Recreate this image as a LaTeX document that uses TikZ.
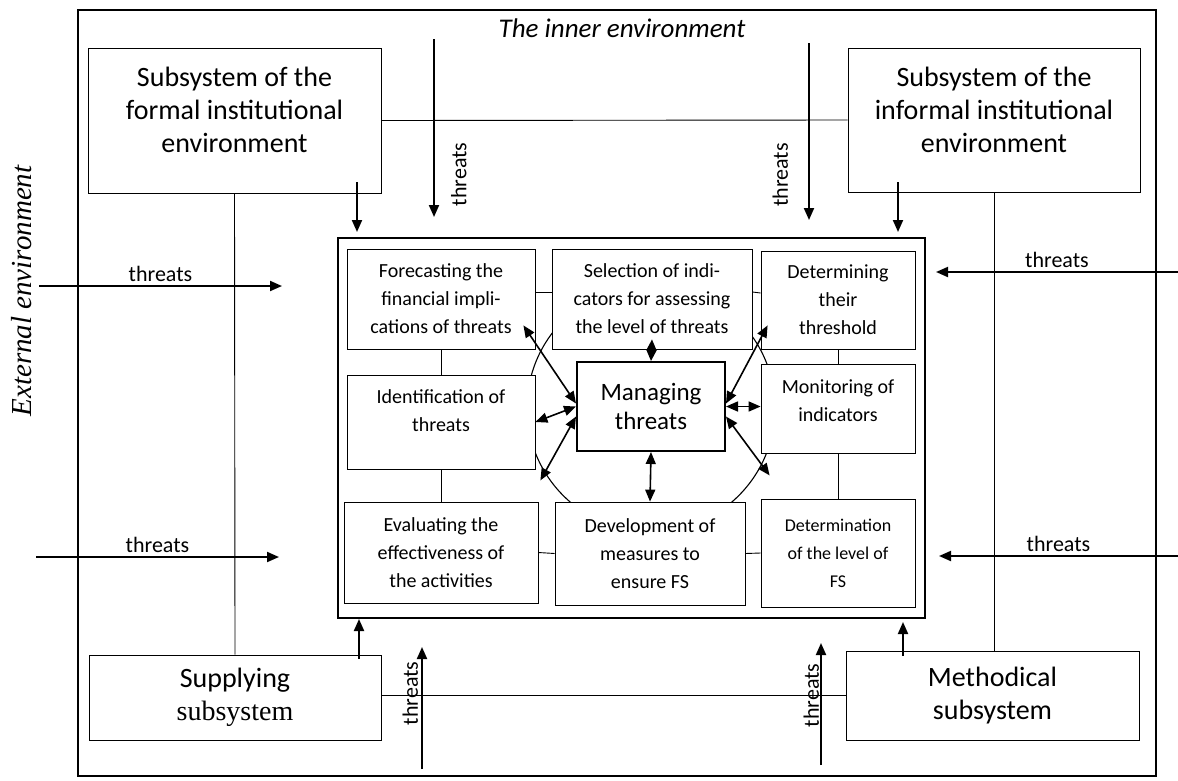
\documentclass[tikz,border=0pt]{standalone}
\usepackage{fontspec}
\setmainfont{Carlito}
\newfontfamily\timesfont{Liberation Serif}
\usetikzlibrary{arrows.meta}
\begin{document}
\begin{tikzpicture}[x=1pt, y=-1pt, >={Triangle[length=12pt,width=10pt]},
  every node/.style={inner sep=0pt, font=\fontsize{20}{28}\selectfont},
  box/.style={rectangle, draw, line width=0.8pt, fill=white, align=center},
  bigbox/.style={box, font=\fontsize{28}{33}\selectfont},
  bigtext/.style={align=center, font=\fontsize{28}{33}\selectfont},
  smalltext/.style={align=center},
  threat/.style={->, line width=2pt},
  feed/.style={->, line width=2pt},
  link/.style={<->, line width=1.6pt},
  tie/.style={line width=0.9pt},
  lbl/.style={font=\fontsize{22}{26}\selectfont}]
	\useasboundingbox (0,0) rectangle (1178,780);
	%Environments
	\draw[line width=2pt] (78,10) rectangle (1156,776);
	\node[font=\fontsize{27}{30}\selectfont\itshape] (inner) at (622,28) {The inner environment};
	\node[rotate=90, font=\timesfont\itshape\fontsize{29}{34}\selectfont] (outer) at (22,291) {External environment};
	%Subsystems
	\node[bigbox, minimum width=293pt, minimum height=145pt,
	  label={[name=formaltext, bigtext, anchor=north, yshift=-19pt]north:Subsystem of the\\formal institutional\\environment}] (formal) at (234.5,120.5) {};
	\node[bigbox, minimum width=292pt, minimum height=144pt,
	  label={[name=informaltext, bigtext, anchor=north, yshift=-19pt]north:Subsystem of the\\informal institutional\\environment}] (informal) at (994,120) {};
	\node[bigbox, minimum width=292pt, minimum height=85pt] (supply) at (235,697.5) {Supplying\\{\timesfont subsystem}};
	\node[bigbox, minimum width=293pt, minimum height=89pt] (method) at (992.5,695.5) {Methodical\\subsystem};
	\draw[tie] (formal.east) -- (informal.west);
	\draw[tie] (formal.south) -- (supply.north);
	\draw[tie] (informal.south) -- (informal.south |- method.north);
	\draw[tie] (method.west -| supply.east) -- (method.west);
	%Core
	\node[draw, line width=2pt, minimum width=587pt, minimum height=380pt] (core) at (631.5,428) {};
	\node[circle, draw, line width=1.1pt, minimum size=248pt] (ring) at (651,408) {};
	\node[box, minimum width=188pt, minimum height=100pt] (forecast) at (441,299) {Forecasting the\\financial impli-\\cations of threats};
	\node[box, minimum width=200pt, minimum height=100pt] (select) at (652,299) {Selection of indi-\\cators for assessing\\the level of threats};
	\node[box, minimum width=154pt, minimum height=98pt] (limit) at (838,300) {Determining\\their\\threshold};
	\node[box, minimum width=188pt, minimum height=94pt,
	  label={[name=identtext, smalltext, anchor=north, yshift=-15pt]north:Identification of\\threats}] (ident) at (441,422) {};
	\node[box, line width=2pt, minimum width=148pt, minimum height=89pt, font=\fontsize{25}{29}\selectfont] (manage) at (651,406.5) {Managing\\threats};
	\node[box, minimum width=154pt, minimum height=89pt,
	  label={[name=monitortext, smalltext, anchor=north, yshift=-16pt]north:Monitoring of\\indicators}] (monitor) at (838,408.5) {};
	\node[box, minimum width=194pt, minimum height=101pt] (assess) at (441,552.5) {Evaluating the\\effectiveness of\\the activities};
	\node[box, minimum width=190pt, minimum height=103pt] (measures) at (650,553.5) {Development of\\measures to\\ensure FS};
	\node[box, minimum width=154pt, minimum height=108pt, font=\fontsize{18}{28}\selectfont] (level) at (838,553) {Determination\\of the level of\\FS};
	\draw[tie] ([yshift=7pt]forecast.east) -- ([yshift=7pt]select.west);
	\draw[tie] ([yshift=7pt]select.east) -- ([yshift=7pt]limit.west);
	\draw[tie] (forecast.south) -- (ident.north);
	\draw[tie] (limit.south) -- (monitor.north);
	\draw[tie] (ident.south) -- (assess.north);
	\draw[tie] (monitor.south) -- (level.north);
	\draw[tie] (assess.east) -- (measures.west);
	\draw[tie] (measures.east) -- (level.west);
	%Managing links
	\draw[link, {Triangle[length=11pt,width=10pt]}-{Triangle[length=11pt,width=10pt]}] (manage.north) -- ([yshift=10pt]select.south);
	\draw[link] (manage.south) -- (measures.north);
	\draw[link] (manage.west) -- (ident.east);
	\draw[link] (manage.east) -- (manage.east -| monitor.west);
	\draw[link] ([yshift=3pt]manage.west) -- ([xshift=-12pt,yshift=24pt]forecast.south east);
	\draw[link] ([yshift=-10pt]manage.west) -- ([xshift=5pt,yshift=-11pt]ident.south east);
	\draw[link] ([yshift=3pt]manage.east) -- ([xshift=7pt,yshift=24pt]limit.south west);
	\draw[link] ([yshift=-10pt]manage.east) -- ([xshift=9pt,yshift=-22pt]monitor.south west);
	%Subsystems to core
	\draw[feed, shorten <=-11pt, shorten >=5pt] (formal.south -| 357,0) -- (core.north -| 357,0);
	\draw[feed, shorten <=-10pt, shorten >=5pt] (informal.south -| 898,0) -- (core.north -| 898,0);
	\draw[feed, shorten <=-4pt] (supply.north -| 359,0) -- (core.south -| 359,0);
	\draw[feed, shorten <=-5pt, shorten >=3pt] (method.north -| 903,0) -- (core.south -| 903,0);
	%Threats
	\coordinate (a1) at (434,39);  \coordinate (a2) at (434,217);
	\coordinate (b1) at (809,43);  \coordinate (b2) at (809,220);
	\coordinate (c1) at (39,286);  \coordinate (c2) at (282,286);
	\coordinate (d1) at (36,557);  \coordinate (d2) at (279,557);
	\coordinate (e1) at (1178,272); \coordinate (e2) at (936,272);
	\coordinate (f1) at (1178,556); \coordinate (f2) at (939,556);
	\coordinate (g1) at (422,769); \coordinate (g2) at (422,647);
	\coordinate (h1) at (821,765); \coordinate (h2) at (821,643);
	\draw[threat] (a1) -- node[lbl, pos=0.76, rotate=90, anchor=north, inner ysep=16pt] (ta) {threats} (a2);
	\draw[threat] (b1) -- node[lbl, pos=0.745, rotate=90, anchor=south, inner ysep=20pt] (tb) {threats} (b2);
	\draw[threat] (c1) -- node[lbl, midway, above=3pt] (tc) {threats} (c2);
	\draw[threat] (d1) -- node[lbl, midway, above=3pt] (td) {threats} (d2);
	\draw[threat] (e1) -- node[lbl, midway, above=3pt] (te) {threats} (e2);
	\draw[threat] (f1) -- node[lbl, midway, above=3pt] (tf) {threats} (f2);
	\draw[threat] (g1) -- node[lbl, pos=0.62, rotate=90, anchor=south, inner ysep=3pt] (tg) {threats} (g2);
	\draw[threat] (h1) -- node[lbl, pos=0.57, rotate=90, anchor=south, inner ysep=1pt] (th) {threats} (h2);
\end{tikzpicture}
\end{document}
